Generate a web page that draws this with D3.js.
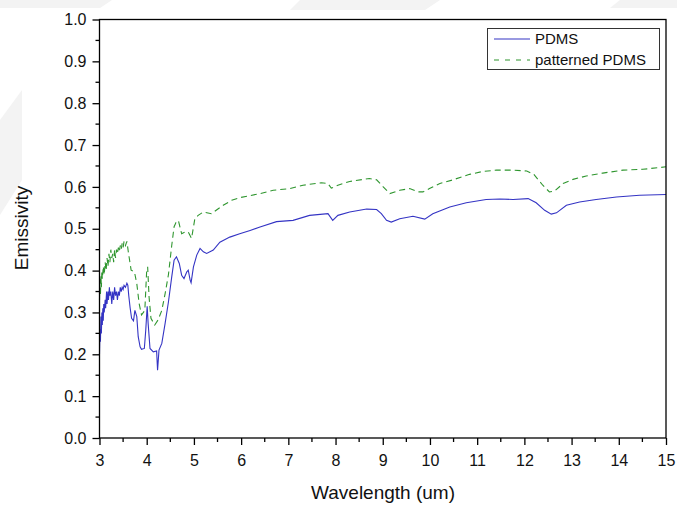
<!DOCTYPE html>
<meta charset="utf-8">
<style>
  body { margin: 0; background: #fff; }
  svg { display: block; font-family: "Liberation Sans", Arial, sans-serif; }
</style>
<svg width="677" height="506"></svg>
<script src="https://d3js.org/d3.v7.min.js"></script>
<script>

// wavelength (um), emissivity
var pdms = [
  [3.00,0.20],[3.01,0.26],[3.02,0.23],[3.03,0.29],[3.04,0.25],[3.05,0.30],[3.06,0.27],[3.07,0.31],
  [3.08,0.28],[3.09,0.32],[3.10,0.30],[3.12,0.33],[3.13,0.31],[3.15,0.35],[3.16,0.32],[3.18,0.35],
  [3.19,0.33],[3.21,0.36],[3.22,0.34],[3.24,0.35],[3.26,0.32],[3.28,0.35],[3.30,0.33],[3.32,0.36],
  [3.34,0.34],[3.36,0.35],[3.38,0.33],[3.40,0.35],[3.42,0.34],[3.44,0.36],[3.46,0.35],[3.48,0.36],
  [3.50,0.355],[3.52,0.365],[3.55,0.36],[3.58,0.37],[3.60,0.365],[3.62,0.34],[3.65,0.31],[3.68,0.286],
  [3.72,0.28],[3.75,0.305],[3.79,0.29],[3.82,0.242],[3.86,0.218],[3.89,0.212],[3.95,0.214],
  [3.98,0.258],[4.01,0.315],[4.03,0.274],[4.07,0.214],[4.14,0.206],[4.21,0.208],[4.23,0.162],
  [4.26,0.21],[4.32,0.226],[4.39,0.274],[4.46,0.325],[4.53,0.385],[4.58,0.425],[4.63,0.433],
  [4.69,0.417],[4.74,0.389],[4.79,0.381],[4.85,0.397],[4.88,0.401],[4.92,0.377],[4.94,0.371],
  [4.99,0.409],[5.06,0.437],[5.13,0.453],[5.20,0.445],[5.27,0.441],[5.41,0.449],[5.55,0.468],
  [5.76,0.480],[5.97,0.488],[6.19,0.496],[6.40,0.504],[6.75,0.517],[7.10,0.520],[7.45,0.532],
  [7.84,0.536],[7.94,0.520],[8.05,0.532],[8.30,0.540],[8.66,0.547],[8.87,0.546],[8.97,0.536],
  [9.08,0.520],[9.18,0.516],[9.36,0.524],[9.64,0.530],[9.89,0.523],[10.06,0.536],[10.42,0.552],
  [10.77,0.562],[11.19,0.570],[11.48,0.571],[11.76,0.570],[12.08,0.572],[12.25,0.562],[12.43,0.544],
  [12.57,0.535],[12.68,0.538],[12.89,0.556],[13.17,0.564],[13.52,0.570],[13.95,0.576],[14.44,0.580],
  [15.00,0.582]
];

var patterned = [
  [3.00,0.33],[3.01,0.38],[3.02,0.34],[3.03,0.39],[3.04,0.36],[3.05,0.40],[3.06,0.38],[3.08,0.41],
  [3.10,0.39],[3.12,0.42],[3.14,0.40],[3.16,0.43],[3.18,0.41],[3.20,0.44],[3.22,0.42],[3.24,0.45],
  [3.26,0.43],[3.28,0.44],[3.30,0.42],[3.32,0.45],[3.34,0.43],[3.36,0.45],[3.38,0.44],[3.40,0.455],
  [3.42,0.445],[3.44,0.46],[3.46,0.45],[3.48,0.465],[3.50,0.455],[3.52,0.47],[3.55,0.46],[3.58,0.47],
  [3.61,0.445],[3.67,0.401],[3.74,0.397],[3.79,0.369],[3.84,0.321],[3.89,0.294],[3.96,0.305],
  [4.00,0.401],[4.02,0.409],[4.05,0.337],[4.09,0.286],[4.17,0.270],[4.24,0.282],[4.32,0.305],
  [4.39,0.345],[4.46,0.390],[4.53,0.460],[4.58,0.505],[4.62,0.515],[4.67,0.520],[4.74,0.488],
  [4.81,0.492],[4.88,0.492],[4.95,0.477],[5.02,0.524],[5.09,0.532],[5.20,0.540],[5.37,0.536],
  [5.62,0.556],[5.80,0.568],[6.00,0.575],[6.40,0.584],[6.68,0.592],[7.03,0.596],[7.31,0.604],
  [7.70,0.610],[7.84,0.608],[7.91,0.597],[8.05,0.604],[8.30,0.613],[8.72,0.620],[8.87,0.617],
  [9.01,0.600],[9.15,0.584],[9.36,0.592],[9.57,0.596],[9.75,0.588],[9.85,0.588],[9.99,0.596],
  [10.21,0.608],[10.49,0.617],[10.84,0.630],[11.12,0.637],[11.41,0.640],[11.76,0.640],[12.05,0.638],
  [12.20,0.630],[12.39,0.604],[12.53,0.588],[12.64,0.590],[12.82,0.608],[13.03,0.618],[13.31,0.626],
  [13.66,0.633],[14.09,0.640],[14.51,0.642],[15.00,0.648]
];

var xTicks = d3.range(3, 16, 1),
    yTicks = d3.range(0, 11).map(function(i) { return i / 10; });

var svg = d3.select("svg");

// faint watermark shapes
var wm = svg.append("g").attr("fill", "#f3f3f3");
wm.append("path").attr("d", "M0,0H112L100,8H0Z");
wm.append("path").attr("d", "M300,0H440L425,10H290Z");
wm.append("path").attr("d", "M620,0H677V8H610Z");
wm.append("path").attr("d", "M0,120L22,90L22,180L0,215Z");

var x = d3.scaleLinear().domain([3, 15]).range([99.5, 666]),
    y = d3.scaleLinear().domain([0, 1]).range([438, 19.5]);

var line = d3.line()
    .x(function(d) { return x(d[0]); })
    .y(function(d) { return y(d[1]); });

svg.append("path")
    .datum(patterned)
    .attr("fill", "none")
    .attr("stroke", "#2f962f")
    .attr("stroke-width", 1.1)
    .attr("stroke-dasharray", "6,4")
    .attr("d", line);

svg.append("path")
    .datum(pdms)
    .attr("fill", "none")
    .attr("stroke", "#3434c4")
    .attr("stroke-width", 1.1)
    .attr("d", line);

// frame
svg.append("rect")
    .attr("x", 99.5).attr("y", 19.5)
    .attr("width", 666 - 99.5).attr("height", 438 - 19.5)
    .attr("fill", "none").attr("stroke", "#000").attr("stroke-width", 1.3);

var font = "Liberation Sans, Arial, sans-serif";

// axes
var xAxis = svg.append("g").attr("transform", "translate(0,438)");
xAxis.selectAll(".minor").data(d3.range(3.5, 15, 1)).enter().append("line")
    .attr("x1", x).attr("x2", x).attr("y1", 0).attr("y2", 4).attr("stroke", "#000").attr("stroke-width", 1.2);
xAxis.call(d3.axisBottom(x).tickValues(xTicks).tickFormat(d3.format("d")).tickSize(7).tickPadding(10))
    .call(function(g) { g.select(".domain").remove(); })
    .call(function(g) { g.selectAll("line").attr("stroke-width", 1.3); })
    .call(function(g) { g.selectAll("text").attr("font-size", 16).attr("font-family", font).attr("fill", "#111"); });

var yAxis = svg.append("g").attr("transform", "translate(99.5,0)");
yAxis.selectAll(".minor").data(d3.range(0.05, 1, 0.1)).enter().append("line")
    .attr("y1", y).attr("y2", y).attr("x1", 0).attr("x2", -4).attr("stroke", "#000").attr("stroke-width", 1.2);
yAxis.call(d3.axisLeft(y).tickValues(yTicks).tickFormat(d3.format(".1f")).tickSize(7).tickPadding(6))
    .call(function(g) { g.select(".domain").remove(); })
    .call(function(g) { g.selectAll("line").attr("stroke-width", 1.3); })
    .call(function(g) { g.selectAll("text").attr("font-size", 16).attr("font-family", font).attr("fill", "#111"); });

svg.append("text")
    .attr("x", 383).attr("y", 499)
    .attr("text-anchor", "middle").attr("font-size", 19).attr("fill", "#111")
    .text("Wavelength (um)");

svg.append("text")
    .attr("transform", "translate(28,228) rotate(-90)")
    .attr("text-anchor", "middle").attr("font-size", 19).attr("fill", "#111")
    .text("Emissivity");

// legend
var legend = svg.append("g");
legend.append("rect")
    .attr("x", 487.5).attr("y", 28.5).attr("width", 172).attr("height", 41)
    .attr("fill", "#fff").attr("stroke", "#333").attr("stroke-width", 1);
legend.append("line")
    .attr("x1", 494).attr("x2", 530).attr("y1", 39).attr("y2", 39)
    .attr("stroke", "#3434c4").attr("stroke-width", 1.1);
legend.append("line")
    .attr("x1", 494).attr("x2", 530).attr("y1", 60).attr("y2", 60)
    .attr("stroke", "#2f962f").attr("stroke-width", 1.1).attr("stroke-dasharray", "5,6");
legend.append("text").attr("x", 535).attr("y", 44).attr("font-size", 15).attr("fill", "#111").text("PDMS");
legend.append("text").attr("x", 535).attr("y", 65).attr("font-size", 15).attr("fill", "#111").text("patterned PDMS");

</script>
